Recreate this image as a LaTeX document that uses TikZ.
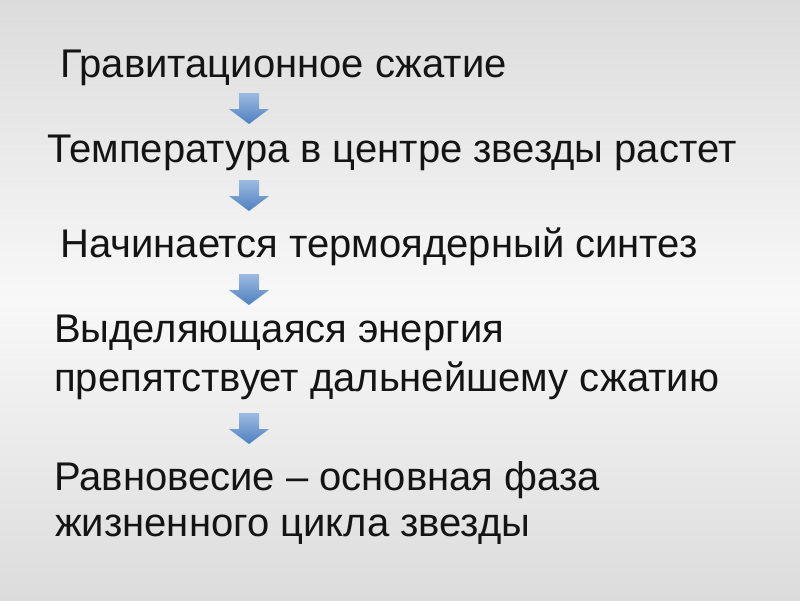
\documentclass[tikz,border=0pt]{standalone}
\usepackage{fontspec}
\setmainfont{Liberation Sans}
\definecolor{bgedge}{HTML}{DCDCDC}
\definecolor{bgmid}{HTML}{F8F8F8}
\definecolor{txt}{HTML}{141414}
\definecolor{arrtop}{HTML}{9DBBE0}
\definecolor{arrbot}{HTML}{4E7FC0}
\tikzset{
  line/.style={anchor=base west, inner sep=0pt, text=txt, font=\fontsize{40}{48}\selectfont},
  blockarrow/.style={top color=arrtop, bottom color=arrbot, draw=none}
}
\newcommand{\downarrowshape}[2]{%
  \path[blockarrow] (239,#1) -- (259,#1) -- (259,#1+16) -- (269,#1+16) -- (249,#1+31) -- (229,#1+16) -- (239,#1+16) -- cycle;
  \coordinate (#2) at (249,#1+15);}
\begin{document}
\begin{tikzpicture}[x=1pt,y=-1pt]
\useasboundingbox (0,0) rectangle (800,600);
\shade[top color=bgedge, bottom color=bgedge, middle color=bgmid] (0,0) rectangle (800,600);
\node[line] (l1) at (60,77) {Гравитационное сжатие};
\node[line] (l2) at (47,162) {Температура в центре звезды растет};
\node[line] (l3) at (60,257) {Начинается термоядерный синтез};
\node[line] (l4) at (54,342) {Выделяющаяся энергия};
\node[line] (l5) at (54,391) {препятствует дальнейшему сжатию};
\node[line] (l6) at (54,490) {Равновесие – основная фаза};
\node[line] (l7) at (55,536) {жизненного цикла звезды};
\downarrowshape{93}{a1}
\downarrowshape{180}{a2}
\downarrowshape{274}{a3}
\downarrowshape{413}{a4}
\end{tikzpicture}
\end{document}
